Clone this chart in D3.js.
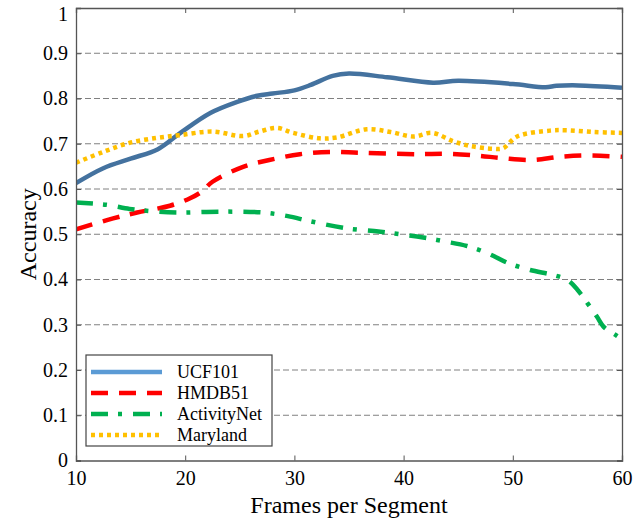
<!DOCTYPE html>
<html>
<head>
<meta charset="utf-8">
<script src="https://cdn.jsdelivr.net/npm/d3@7"></script>
<style>
  html, body { margin: 0; padding: 0; background: #fff; }
  svg { display: block; }
  text { font-family: "Liberation Serif", "Times New Roman", serif; fill: #000; }
</style>
</head>
<body>
<svg id="chart" width="642" height="521"></svg>
<script>
// ---- data ----
const seriesNames = ["UCF101", "HMDB51", "ActivityNet", "Maryland"];

const ucf101 = [
  [10, 0.613], [12.5, 0.646], [15, 0.667], [17.5, 0.688], [19.5, 0.723],
  [22.3, 0.768], [24.7, 0.792], [26.6, 0.806], [28, 0.811], [30, 0.818],
  [31.5, 0.830], [33.5, 0.850], [35, 0.855], [38.5, 0.847], [42.7, 0.835],
  [45, 0.839], [50, 0.832], [53, 0.825], [54, 0.828], [56, 0.829], [60, 0.824]
];
const hmdb51 = [
  [10, 0.511], [13.4, 0.535], [15.6, 0.548], [18.6, 0.563], [20.4, 0.579],
  [21.5, 0.594], [22.5, 0.616], [25.3, 0.649], [27.7, 0.664], [30.5, 0.677],
  [33.3, 0.682], [36, 0.680], [41.2, 0.677], [44, 0.678], [46.7, 0.674],
  [49.1, 0.668], [51.8, 0.664], [54.3, 0.671], [56.9, 0.674], [60, 0.671]
];
const activityNet = [
  [10, 0.570], [12.8, 0.565], [14.9, 0.556], [16.9, 0.551], [19.2, 0.548],
  [23.2, 0.550], [27.1, 0.548], [29.4, 0.540], [31.4, 0.529], [34.8, 0.513],
  [37.7, 0.506], [39.7, 0.500], [41.8, 0.493], [43.8, 0.484], [45.8, 0.474],
  [47.7, 0.458], [49.6, 0.436], [51.6, 0.421], [53.7, 0.410], [55, 0.399],
  [55.9, 0.378], [56.8, 0.349], [57.7, 0.318], [58.3, 0.296], [59.5, 0.276], [60, 0.268]
];
const maryland = [
  [10, 0.658], [12.5, 0.682], [14.9, 0.702], [17.4, 0.713], [19.5, 0.719],
  [22.5, 0.727], [25.3, 0.717], [26.8, 0.727], [28.4, 0.735], [29.9, 0.724],
  [32.3, 0.712], [33.9, 0.714], [36.6, 0.732], [38.8, 0.726], [40.9, 0.716],
  [42.6, 0.724], [44.5, 0.706], [46.1, 0.695], [48.2, 0.689], [49.1, 0.690],
  [50.4, 0.716], [53.4, 0.729], [54.8, 0.730], [57.4, 0.726], [60, 0.724]
];

const xTicks = [10, 20, 30, 40, 50, 60];
const yTicks = [0, 0.1, 0.2, 0.3, 0.4, 0.5, 0.6, 0.7, 0.8, 0.9, 1];
const yTickLabels = ["0", "0.1", "0.2", "0.3", "0.4", "0.5", "0.6", "0.7", "0.8", "0.9", "1"];
const xLabel = "Frames per Segment";
const yLabel = "Accuracy";

// ---- styles ----
const styles = [
  { data: ucf101,      color: "#44729f", legendColor: "#5b9bd5", dash: null },
  { data: hmdb51,      color: "#ff0000", legendColor: "#ff0000", dash: "17,11" },
  { data: activityNet, color: "#00b050", legendColor: "#00b050", dash: "17,10,4,11" },
  { data: maryland,    color: "#ffc000", legendColor: "#ffc000", dash: "4,4" }
];

const svg = d3.select("#chart");
const L = 76, R = 622, T = 8, B = 460.5;

const x = d3.scaleLinear().domain([10, 60]).range([L, R]);
const y = d3.scaleLinear().domain([0, 1]).range([B, T]);

// grid
svg.append("g").selectAll("line")
  .data(yTicks.filter(d => d > 0 && d < 1))
  .join("line")
  .attr("x1", L).attr("x2", R)
  .attr("y1", d => y(d)).attr("y2", d => y(d))
  .attr("stroke", "#808080").attr("stroke-width", 1)
  .attr("stroke-dasharray", "6,3");

// lines
const line = d3.line().x(d => x(d[0])).y(d => y(d[1])).curve(d3.curveCatmullRom.alpha(0.5));
svg.append("clipPath").attr("id", "clip")
  .append("rect").attr("x", L).attr("y", T).attr("width", R - L).attr("height", B - T);

styles.forEach(s => {
  svg.append("path")
    .datum(s.data)
    .attr("d", line)
    .attr("fill", "none")
    .attr("stroke", s.color)
    .attr("stroke-width", 4.5)
    .attr("stroke-dasharray", s.dash)
    .attr("clip-path", "url(#clip)");
});

// axes (box with inward ticks)
const axisColor = "#555";
const tickLen = 5;
const gB = svg.append("g").attr("transform", `translate(0,${B})`)
  .call(d3.axisBottom(x).tickValues(xTicks).tickSize(-tickLen).tickPadding(10).tickFormat(d3.format("d")));
const gT = svg.append("g").attr("transform", `translate(0,${T})`)
  .call(d3.axisTop(x).tickValues(xTicks).tickSize(-tickLen).tickFormat(""));
const gL = svg.append("g").attr("transform", `translate(${L},0)`)
  .call(d3.axisLeft(y).tickValues(yTicks).tickSize(-tickLen).tickPadding(8).tickFormat((d, i) => yTickLabels[i]));
const gR = svg.append("g").attr("transform", `translate(${R},0)`)
  .call(d3.axisRight(y).tickValues(yTicks).tickSize(-tickLen).tickFormat(""));

[gB, gT, gL, gR].forEach(g => {
  g.select(".domain").attr("stroke", axisColor).attr("stroke-width", 1.3);
  g.selectAll(".tick line").attr("stroke", axisColor).attr("stroke-width", 1);
  g.selectAll("text").attr("font-family", "Liberation Serif, serif").attr("font-size", 20).attr("fill", "#000");
});
// keep the top label inside the picture
gL.selectAll(".tick text").filter(d => d === 1).attr("dy", "0.62em");

// axis labels
svg.append("text")
  .attr("x", (L + R) / 2).attr("y", 513)
  .attr("text-anchor", "middle").attr("font-size", 24)
  .text(xLabel);
svg.append("text")
  .attr("transform", `translate(28,${(T + B) / 2}) rotate(-90)`)
  .attr("text-anchor", "middle").attr("dominant-baseline", "central").attr("font-size", 24)
  .text(yLabel);

// legend
const lg = svg.append("g");
lg.append("rect").attr("x", 86).attr("y", 355).attr("width", 186).attr("height", 91)
  .attr("fill", "#fff").attr("stroke", "#444").attr("stroke-width", 1.2);
styles.forEach((s, i) => {
  const yy = 372 + i * 21;
  lg.append("line").attr("x1", 91).attr("x2", 162).attr("y1", yy).attr("y2", yy)
    .attr("stroke", s.legendColor).attr("stroke-width", 4.5).attr("stroke-dasharray", s.dash);
  lg.append("text").attr("x", 177).attr("y", yy).attr("dominant-baseline", "central")
    .attr("font-size", 18).text(seriesNames[i]);
});
</script>
</body>
</html>
